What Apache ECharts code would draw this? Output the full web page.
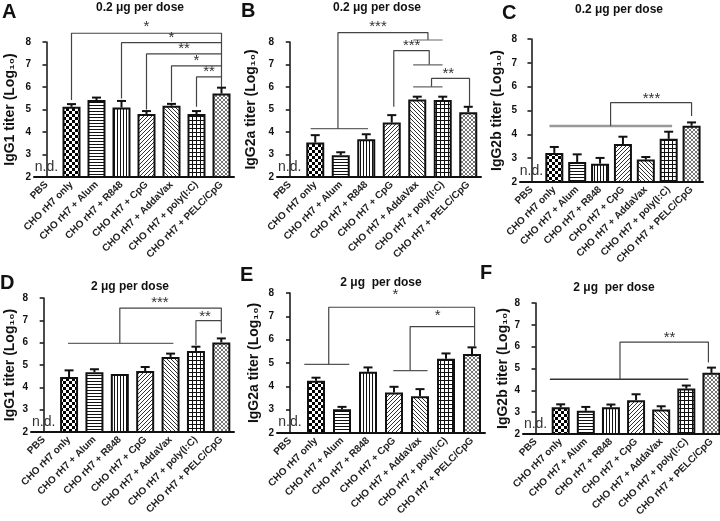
<!DOCTYPE html>
<html>
<head>
<meta charset="utf-8">
<style>
  html, body { margin: 0; background: #fff; }
  #chart { width: 720px; height: 521px; }
</style>
<script src="https://cdn.jsdelivr.net/npm/echarts/dist/echarts.min.js"></script>
</head>
<body>
<div id="chart"></div>
<script>
// Groups (x axis)
const categories = [
  "PBS",
  "CHO rH7 only",
  "CHO rH7 + Alum",
  "CHO rH7 + R848",
  "CHO rH7 + CpG",
  "CHO rH7 + AddaVax",
  "CHO rH7 + poly(I:C)",
  "CHO rH7 + PELC/CpG",
];
const yTicks = [2, 3, 4, 5, 6, 7, 8];

// Titers (Log10), PBS not detected
const igg1Low = [null, 5.12, 5.42, 5.09, 4.8, 5.17, 4.8, 5.71];
const igg1LowErr = [null, 0.12, 0.11, 0.29, 0.13, 0.08, 0.13, 0.26];
const igg2aLow = [null, 3.53, 2.97, 3.68, 4.42, 5.45, 5.42, 4.88];
const igg2aLowErr = [null, 0.33, 0.13, 0.22, 0.33, 0.12, 0.15, 0.24];
const igg2bLow = [null, 3.22, 2.84, 2.77, 3.59, 2.94, 3.81, 4.36];
const igg2bLowErr = [null, 0.25, 0.32, 0.24, 0.31, 0.11, 0.3, 0.14];
const igg1High = [null, 4.46, 4.68, 4.6, 4.73, 5.36, 5.63, 6.01];
const igg1HighErr = [null, 0.3, 0.13, 0, 0.18, 0.15, 0.19, 0.18];
const igg2aHigh = [null, 4.24, 3.02, 4.63, 3.74, 3.58, 5.18, 5.39];
const igg2aHighErr = [null, 0.13, 0.1, 0.18, 0.24, 0.3, 0.23, 0.28];
const igg2bHigh = [null, 3.22, 3.06, 3.22, 3.55, 3.12, 4.08, 4.8];
const igg2bHighErr = [null, 0.14, 0.18, 0.13, 0.27, 0.15, 0.14, 0.24];

// Significance brackets, in (group index, titer) units
const linksA = [
  [[1, 5.42], [1, 8.39], [7, 8.39], [7, 6.0]],
  [[3, 5.49], [3, 7.97], [7, 7.97]],
  [[4, 5.0], [4, 7.47], [7, 7.47]],
  [[5, 5.34], [5, 6.94], [7, 6.94]],
  [[6, 5.12], [6, 6.45], [7, 6.45]],
];
const starsA = [[4, 8.66, "*"], [5, 8.2, "*"], [5.5, 7.68, "**"], [6, 7.16, "*"], [6.5, 6.67, "**"]];

const linksB = [
  [[0.82, 4.15], [3.07, 4.15]],
  [[1.89, 4.15], [1.89, 8.42], [5.42, 8.42], [5.42, 8.09]],
  [[4.84, 8.09], [5.99, 8.09]],
  [[4.08, 5.12], [4.08, 7.62], [5.47, 7.62], [5.47, 6.98]],
  [[4.84, 6.98], [5.99, 6.98]],
  [[4.84, 6.01], [5.99, 6.01]],
  [[5.56, 6.01], [5.56, 6.38], [7.05, 6.38], [7.05, 5.15]],
];
const starsB = [[3.46, 8.68, "***"], [4.78, 7.84, "***"], [6.22, 6.6, "**"]];

const linksC = [
  [[0.79, 4.35], [6.15, 4.35]],
  [[3.46, 4.35], [3.46, 5.33], [7, 5.33], [7, 4.77]],
];
const starsC = [[5.25, 5.5, "***"]];

const linksD = [
  [[0.96, 5.97], [5.11, 5.97]],
  [[3, 5.97], [3, 7.55], [7, 7.55], [7, 6.42]],
  [[6, 5.89], [6, 6.99], [7, 6.99]],
];
const starsD = [[4.58, 7.78, "***"], [6.36, 7.17, "**"]];

const linksE = [
  [[0.55, 4.94], [2.28, 4.94]],
  [[1.49, 4.94], [1.49, 7.39], [7.1, 7.39], [7.1, 5.7]],
  [[3.97, 4.67], [5.29, 4.67]],
  [[4.62, 4.67], [4.62, 6.56], [7.1, 6.56]],
];
const starsE = [[4.05, 7.9, "*"], [5.68, 7.03, "*"]];

const linksF = [
  [[0.57, 4.51], [6.08, 4.51]],
  [[3.36, 4.51], [3.36, 6.21], [6.88, 6.21], [6.88, 5.28]],
];
const starsF = [[5.33, 6.4, "**"]];

const ndLabel = [0, 2.45, "n.d."];

const FONT = "'Liberation Sans', Arial, Helvetica, sans-serif";

// Fill patterns for the bars
const pattern = (w, h, draw) => {
  const c = document.createElement("canvas");
  c.width = w;
  c.height = h;
  const ctx = c.getContext("2d");
  ctx.fillStyle = "#fff";
  ctx.fillRect(0, 0, w, h);
  draw(ctx);
  return { image: c, repeat: "repeat" };
};
const diag = (ctx, s, up, color) => {
  ctx.strokeStyle = color;
  ctx.lineWidth = 1;
  ctx.beginPath();
  for (let k = -1; k <= 1; k++) {
    if (up) {
      ctx.moveTo(k * s, s);
      ctx.lineTo(k * s + s, 0);
    } else {
      ctx.moveTo(k * s, 0);
      ctx.lineTo(k * s + s, s);
    }
  }
  ctx.stroke();
};
const patterns = [
  "#fff",
  pattern(6, 6, (ctx) => {
    ctx.fillStyle = "#000";
    ctx.fillRect(0, 0, 3, 3);
    ctx.fillRect(3, 3, 3, 3);
  }),
  pattern(4, 3, (ctx) => {
    ctx.fillStyle = "#111";
    ctx.fillRect(0, 0, 4, 1);
  }),
  pattern(3, 4, (ctx) => {
    ctx.fillStyle = "#111";
    ctx.fillRect(0, 0, 1, 4);
  }),
  pattern(4, 4, (ctx) => diag(ctx, 4, true, "#333")),
  pattern(4, 4, (ctx) => diag(ctx, 4, false, "#333")),
  pattern(4, 4, (ctx) => {
    ctx.fillStyle = "#111";
    ctx.fillRect(0, 0, 4, 1);
    ctx.fillRect(0, 0, 1, 4);
  }),
  pattern(4, 4, (ctx) => {
    diag(ctx, 4, true, "#777");
    diag(ctx, 4, false, "#777");
  }),
];

const panels = [
  { letter: "A", title: "0.2 μg per dose", yName: "IgG1 titer (Log₁₀)", values: igg1Low, errors: igg1LowErr,
    links: linksA, stars: starsA, grid: { left: 34, top: 42, width: 200, height: 135 },
    nameX: 10, letterAt: [2, 2], titleAt: [140, 2], groupColor: "#555", groupWidth: 1.2 },
  { letter: "B", title: "0.2 μg per dose", yName: "IgG2a titer (Log₁₀)", values: igg2aLow, errors: igg2aLowErr,
    links: linksB, stars: starsB, grid: { left: 277, top: 42, width: 204, height: 135 },
    nameX: 251, letterAt: [241, 1], titleAt: [377, 2], groupColor: "#666", groupWidth: 1.2 },
  { letter: "C", title: "0.2 μg per dose", yName: "IgG2b titer (Log₁₀)", values: igg2bLow, errors: igg2bLowErr,
    links: linksC, stars: starsC, grid: { left: 520, top: 39, width: 183, height: 143 },
    nameX: 497, letterAt: [502, 3], titleAt: [619, 4], groupColor: "#999", groupWidth: 2.5 },
  { letter: "D", title: "2 μg per dose", yName: "IgG1 titer (Log₁₀)", values: igg1High, errors: igg1HighErr,
    links: linksD, stars: starsD, grid: { left: 31, top: 298, width: 203, height: 134 },
    nameX: 10, letterAt: [0, 273], titleAt: [130, 281], groupColor: "#666", groupWidth: 1.2 },
  { letter: "E", title: "2 μg  per dose", yName: "IgG2a titer (Log₁₀)", values: igg2aHigh, errors: igg2aHighErr,
    links: linksE, stars: starsE, grid: { left: 277, top: 293, width: 208, height: 140 },
    nameX: 254, letterAt: [240, 265], titleAt: [381, 277], groupColor: "#555", groupWidth: 1.2 },
  { letter: "F", title: "2 μg  per dose", yName: "IgG2b titer (Log₁₀)", values: igg2bHigh, errors: igg2bHighErr,
    links: linksF, stars: starsF, grid: { left: 523, top: 303, width: 201, height: 131 },
    nameX: 506, letterAt: [480, 263], titleAt: [614, 282], groupColor: "#333", groupWidth: 1.5 },
];

const chart = echarts.init(document.getElementById("chart"));

const grids = [];
const xAxes = [];
const yAxes = [];
const series = [];
const graphics = [];

// text drawn at a data position
const textItem = (items, size, color) => (params, api) => {
  const d = items[params.dataIndex];
  const p = api.coord([d[0], d[1]]);
  return {
    type: "text",
    x: p[0],
    y: p[1],
    style: {
      text: d[2],
      fontSize: size,
      fontFamily: FONT,
      fill: color,
      align: "center",
      verticalAlign: "middle",
    },
  };
};

panels.forEach((p, k) => {
  grids.push({ ...p.grid, containLabel: false, outerBoundsMode: "none" });

  xAxes.push({
    gridIndex: k,
    type: "category",
    data: categories,
    axisLine: { lineStyle: { color: "#111", width: 2 } },
    axisTick: { alignWithLabel: true, length: 4, lineStyle: { color: "#111", width: 1.5 } },
    axisLabel: {
      rotate: 45,
      interval: 0,
      margin: 6,
      fontSize: 10,
      fontWeight: "bold",
      fontFamily: FONT,
      color: "#222",
    },
  });
  xAxes.push({ gridIndex: k, type: "value", min: -0.5, max: 7.5, show: false });

  yAxes.push({
    gridIndex: k,
    type: "value",
    min: yTicks[0],
    max: yTicks[yTicks.length - 1],
    interval: 1,
    name: p.yName,
    nameLocation: "middle",
    nameRotate: 90,
    nameGap: p.grid.left - p.nameX - 7,
    nameTextStyle: { fontSize: 14, fontWeight: "bold", fontFamily: FONT, color: "#111" },
    axisLine: { show: true, lineStyle: { color: "#111", width: 1.5 } },
    axisTick: { show: true, length: 4, lineStyle: { color: "#111", width: 1.5 } },
    axisLabel: { margin: 3, fontSize: 10, fontWeight: "bold", fontFamily: FONT, color: "#111" },
    splitLine: { show: false },
  });

  // Bars
  series.push({
    type: "bar",
    xAxisIndex: 2 * k,
    yAxisIndex: k,
    barWidth: 18,
    clip: true,
    silent: true,
    animation: false,
    itemStyle: { borderColor: "#111", borderWidth: 2 },
    data: p.values.map((v, i) => (v == null ? "-" : { value: v, itemStyle: { color: patterns[i] } })),
  });

  // Upper error bars
  const errData = p.values
    .map((v, i) => [i, v, p.errors[i]])
    .filter((d) => d[1] != null && d[2] > 0);
  series.push({
    type: "custom",
    xAxisIndex: 2 * k + 1,
    yAxisIndex: k,
    silent: true,
    animation: false,
    clip: false,
    z: 3,
    data: errData,
    renderItem: (params, api) => {
      const d = errData[params.dataIndex];
      const a = api.coord([d[0], d[1]]);
      const b = api.coord([d[0], d[1] + d[2]]);
      const st = { stroke: "#111", lineWidth: 2 };
      return {
        type: "group",
        children: [
          { type: "line", shape: { x1: a[0], y1: a[1], x2: b[0], y2: b[1] }, style: st },
          { type: "line", shape: { x1: b[0] - 4.5, y1: b[1], x2: b[0] + 4.5, y2: b[1] }, style: st },
        ],
      };
    },
  });

  // Brackets
  p.links.forEach((pts) => {
    const isGroup = pts.length === 2;
    series.push({
      type: "line",
      xAxisIndex: 2 * k + 1,
      yAxisIndex: k,
      data: pts,
      symbol: "none",
      clip: false,
      silent: true,
      animation: false,
      z: 4,
      lineStyle: {
        color: isGroup ? p.groupColor : "#444",
        width: isGroup ? p.groupWidth : 1.2,
      },
    });
  });

  // Stars
  series.push({
    type: "custom",
    xAxisIndex: 2 * k + 1,
    yAxisIndex: k,
    silent: true,
    animation: false,
    clip: false,
    z: 5,
    data: p.stars,
    renderItem: textItem(p.stars, 15, "#333"),
  });

  // n.d. for PBS
  series.push({
    type: "custom",
    xAxisIndex: 2 * k + 1,
    yAxisIndex: k,
    silent: true,
    animation: false,
    clip: false,
    z: 5,
    data: [ndLabel],
    renderItem: textItem([ndLabel], 14, "#333"),
  });

  graphics.push({
    type: "text",
    x: p.letterAt[0],
    y: p.letterAt[1],
    style: { text: p.letter, fontSize: 20, fontWeight: "bold", fontFamily: FONT, fill: "#111" },
  });
  graphics.push({
    type: "text",
    x: p.titleAt[0],
    y: p.titleAt[1],
    style: {
      text: p.title,
      fontSize: 12,
      fontWeight: "bold",
      fontFamily: FONT,
      fill: "#111",
      align: "center",
      verticalAlign: "top",
    },
  });
});

chart.setOption({
  animation: false,
  backgroundColor: "#fff",
  grid: grids,
  xAxis: xAxes,
  yAxis: yAxes,
  series: series,
  graphic: graphics,
});
</script>
</body>
</html>
